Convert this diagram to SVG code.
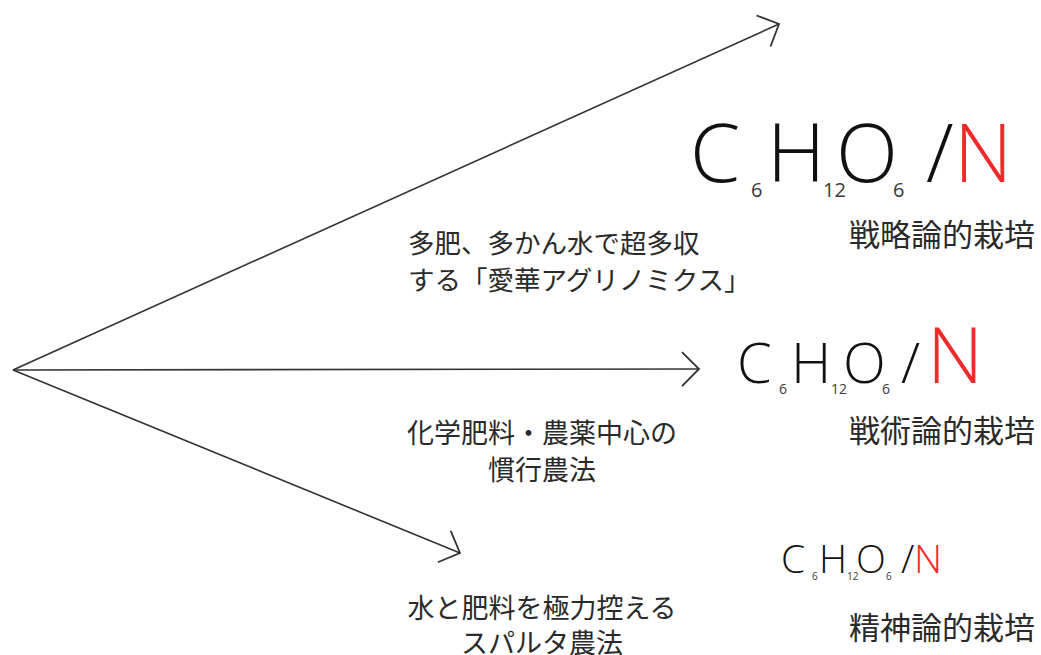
<svg xmlns="http://www.w3.org/2000/svg" width="1041" height="655" viewBox="0 0 1041 655">
  <style>
    .jp { font-family: "Noto Sans CJK JP", "Noto Sans", sans-serif; fill: #2a2a2a; }
    .f { font-family: "Open Sans", "Noto Sans", sans-serif; font-weight: 300; fill: #111; }
    .sub { font-family: "Open Sans", "Noto Sans", sans-serif; font-weight: 400; fill: #3a3a3a; }
    .red { fill: #ee2a2a; }
    .conn { stroke: #333; stroke-width: 1.6; fill: none; marker-end: url(#chev); }
  </style>
  <defs>
    <marker id="chev" markerUnits="userSpaceOnUse" viewBox="0 0 22 42" refX="19" refY="21" markerWidth="22" markerHeight="42" orient="auto">
      <path d="M2,4 L19,21 L2,38" fill="none" stroke="#333" stroke-width="1.8"/>
    </marker>
  </defs>
  <rect width="1041" height="655" fill="#fff"/>

  <g id="connectors">
    <line class="conn" x1="13" y1="370" x2="779" y2="24"/>
    <line class="conn" x1="13" y1="370" x2="699" y2="369"/>
    <line class="conn" x1="13" y1="370" x2="460" y2="553"/>
  </g>

  <g id="label-aika">
    <text class="jp" font-size="26.5" x="408" y="253">多肥、多かん水で超多収</text>
    <text class="jp" font-size="26.5" x="408" y="290">する「愛華アグリノミクス」</text>
  </g>
  <g id="label-kanko">
    <text class="jp" font-size="27" x="542" y="443" text-anchor="middle">化学肥料・農薬中心の</text>
    <text class="jp" font-size="27" x="542" y="480" text-anchor="middle">慣行農法</text>
  </g>
  <g id="label-sparta">
    <text class="jp" font-size="27" x="542" y="618" text-anchor="middle">水と肥料を極力控える</text>
    <text class="jp" font-size="27" x="542" y="653" text-anchor="middle">スパルタ農法</text>
  </g>

  <g id="formula-top">
    <text class="f" font-size="81" x="690" y="182">C</text>
    <text class="sub" font-size="20" x="751" y="197">6</text>
    <text class="f" font-size="81" x="767" y="182">H</text>
    <text class="sub" font-size="20" x="823" y="197">12</text>
    <text class="f" font-size="81" x="836" y="182">O</text>
    <text class="sub" font-size="20" x="893" y="197">6</text>
    <text class="f" font-size="81" x="926" y="182">/</text>
    <text class="f red" font-size="81" x="954" y="182">N</text>
  </g>
  <g id="label-senryaku">
    <text class="jp" font-size="31" x="849" y="246">戦略論的栽培</text>
  </g>

  <g id="formula-mid">
    <text class="f" font-size="56" x="737" y="383">C</text>
    <text class="sub" font-size="14" x="779" y="394">6</text>
    <text class="f" font-size="56" x="791" y="383">H</text>
    <text class="sub" font-size="14" x="831" y="394">12</text>
    <text class="f" font-size="56" x="843" y="383">O</text>
    <text class="sub" font-size="14" x="882" y="394">6</text>
    <text class="f" font-size="56" x="901" y="383">/</text>
    <text class="f red" font-size="78" x="927" y="383">N</text>
  </g>
  <g id="label-senjutsu">
    <text class="jp" font-size="31" x="849" y="442">戦術論的栽培</text>
  </g>

  <g id="formula-bot">
    <text class="f" font-size="39" x="781" y="573">C</text>
    <text class="sub" font-size="10" x="812" y="580">6</text>
    <text class="f" font-size="39" x="819" y="573">H</text>
    <text class="sub" font-size="10" x="847" y="580">12</text>
    <text class="f" font-size="39" x="856" y="573">O</text>
    <text class="sub" font-size="10" x="886" y="580">6</text>
    <text class="f" font-size="39" x="901" y="573">/</text>
    <text class="f red" font-size="39" x="914" y="573">N</text>
  </g>
  <g id="label-seishin">
    <text class="jp" font-size="31" x="849" y="639">精神論的栽培</text>
  </g>
</svg>
